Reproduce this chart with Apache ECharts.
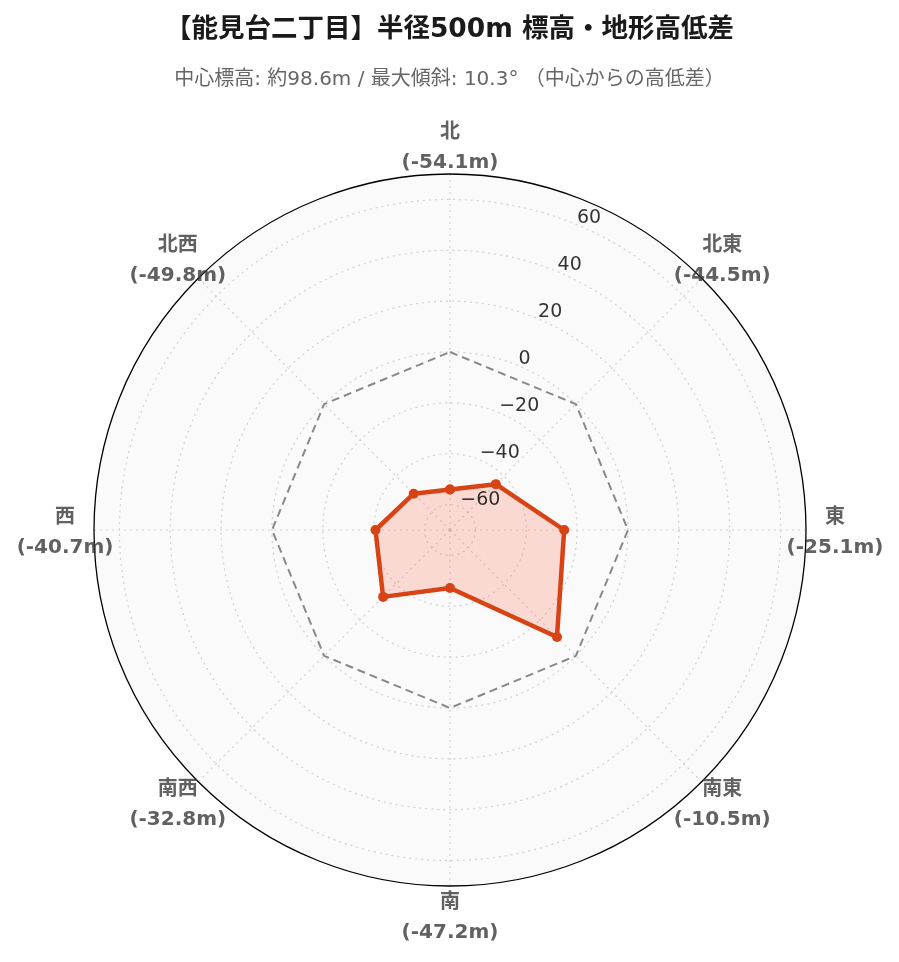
<!DOCTYPE html>
<html>
<head>
<meta charset="utf-8">
<script src="https://cdn.jsdelivr.net/npm/echarts@6/dist/echarts.min.js"></script>
<style>
html,body{margin:0;padding:0;background:#fff;}
#chart{width:899px;height:962px;}
</style>
</head>
<body>
<div id="chart"></div>
<script>
const directions = ['北', '北東', '東', '南東', '南', '南西', '西', '北西'];
const angles = [0, 45, 90, 135, 180, 225, 270, 315];
const diffs = [-54.1, -44.5, -25.1, -10.5, -47.2, -32.8, -40.7, -49.8];
const zeroRef = [0, 0, 0, 0, 0, 0, 0, 0];
const radialTicks = [-60, -40, -20, 0, 20, 40, 60];
const radialRange = [-70, 70];
const titleText = '【能見台二丁目】半径500m 標高・地形高低差';
const subtitleText = '中心標高: 約98.6m / 最大傾斜: 10.3° （中心からの高低差）';

const FONT = '"DejaVu Sans", "Noto Sans CJK JP", sans-serif';

function closed(vals) {
  const pts = vals.map((v, i) => [v, angles[i]]);
  pts.push([vals[0], 360]);
  return pts;
}

const labelRadiusValue = 81.4;   // just outside the plot edge
const tickLabelAngle = 22.5;
const CENTER = [450, 530];
const RADIUS = 356;
const dotted = {color: '#cfcfcf', type: [2, 4], width: 1.2};

const chart = echarts.init(document.getElementById('chart'), null, {renderer: 'canvas'});
chart.setOption({
  backgroundColor: '#ffffff',
  animation: false,
  title: [{
    text: titleText,
    left: 'center',
    top: 12,
    textStyle: {fontFamily: FONT, fontSize: 26.5, fontWeight: 'bold', color: '#1a1a1a'}
  }, {
    text: subtitleText,
    left: 'center',
    top: 65,
    textStyle: {fontFamily: FONT, fontSize: 20, fontWeight: 'normal', color: '#666666'}
  }],
  polar: [{center: CENTER, radius: RADIUS}, {center: CENTER, radius: RADIUS}],
  angleAxis: [{
    polarIndex: 0, z: 0,
    type: 'value', min: 0, max: 360, interval: 45,
    startAngle: 90, clockwise: true,
    axisLine: {show: false}, axisTick: {show: false}, axisLabel: {show: false},
    splitLine: {show: false},
    splitArea: {show: true, areaStyle: {color: ['#fafafa', '#fafafa']}}
  }, {
    polarIndex: 1, z: 1,
    type: 'value', min: 0, max: 360, interval: 45,
    startAngle: 90, clockwise: true,
    axisLine: {show: true, lineStyle: {color: '#000', width: 1.3}},
    axisTick: {show: false},
    axisLabel: {show: false},
    splitLine: {show: true, lineStyle: dotted},
    splitArea: {show: false}
  }],
  radiusAxis: [{
    polarIndex: 0, z: 0,
    type: 'value', min: radialRange[0], max: radialRange[1],
    axisLine: {show: false}, axisTick: {show: false}, axisLabel: {show: false},
    splitLine: {show: false}, splitArea: {show: false}
  }, {
    polarIndex: 1, z: 1,
    type: 'value', min: radialRange[0], max: radialRange[1],
    axisLine: {show: false},
    axisTick: {show: false, customValues: radialTicks},
    axisLabel: {show: false, customValues: radialTicks},
    splitLine: {show: true, lineStyle: dotted},
    splitArea: {show: false}
  }],
  series: [{
    type: 'line',
    coordinateSystem: 'polar', polarIndex: 1,
    data: closed(zeroRef),
    symbol: 'none',
    lineStyle: {color: '#888888', width: 2, type: [8, 5]},
    z: 3
  }, {
    type: 'line',
    coordinateSystem: 'polar', polarIndex: 1,
    data: closed(diffs),
    symbol: 'circle',
    symbolSize: 10,
    showAllSymbol: true,
    itemStyle: {color: '#d84315'},
    lineStyle: {color: '#d84315', width: 4.5},
    areaStyle: {color: 'rgba(255, 110, 80, 0.23)', opacity: 1, origin: 'start'},
    z: 4
  }, {
    type: 'scatter',
    coordinateSystem: 'polar', polarIndex: 1,
    clip: false,
    symbolSize: 1,
    itemStyle: {color: 'rgba(0,0,0,0)'},
    data: directions.map((d, i) => [labelRadiusValue, angles[i]]),
    label: {
      show: true,
      position: 'inside',
      offset: [0, 3],
      formatter: p => '{a|' + directions[p.dataIndex] + '}\n{a|(' + diffs[p.dataIndex].toFixed(1) + 'm)}',
      rich: {a: {fontFamily: FONT, fontSize: 20, fontWeight: 'bold', color: '#3a3a3a', lineHeight: 30, align: 'center'}}
    },
    silent: true,
    z: 2
  }, {
    type: 'scatter',
    coordinateSystem: 'polar', polarIndex: 1,
    clip: false,
    symbolSize: 1,
    itemStyle: {color: 'rgba(0,0,0,0)'},
    data: radialTicks.map(v => [v, tickLabelAngle]),
    label: {
      show: true,
      position: [0, 0],
      align: 'left',
      verticalAlign: 'middle',
      offset: [1, -6],
      formatter: p => String(radialTicks[p.dataIndex]).replace('-', '\u2212'),
      fontFamily: '"DejaVu Sans", sans-serif',
      fontSize: 19,
      color: '#000'
    },
    silent: true,
    z: 5
  }]
});
</script>
</body>
</html>
